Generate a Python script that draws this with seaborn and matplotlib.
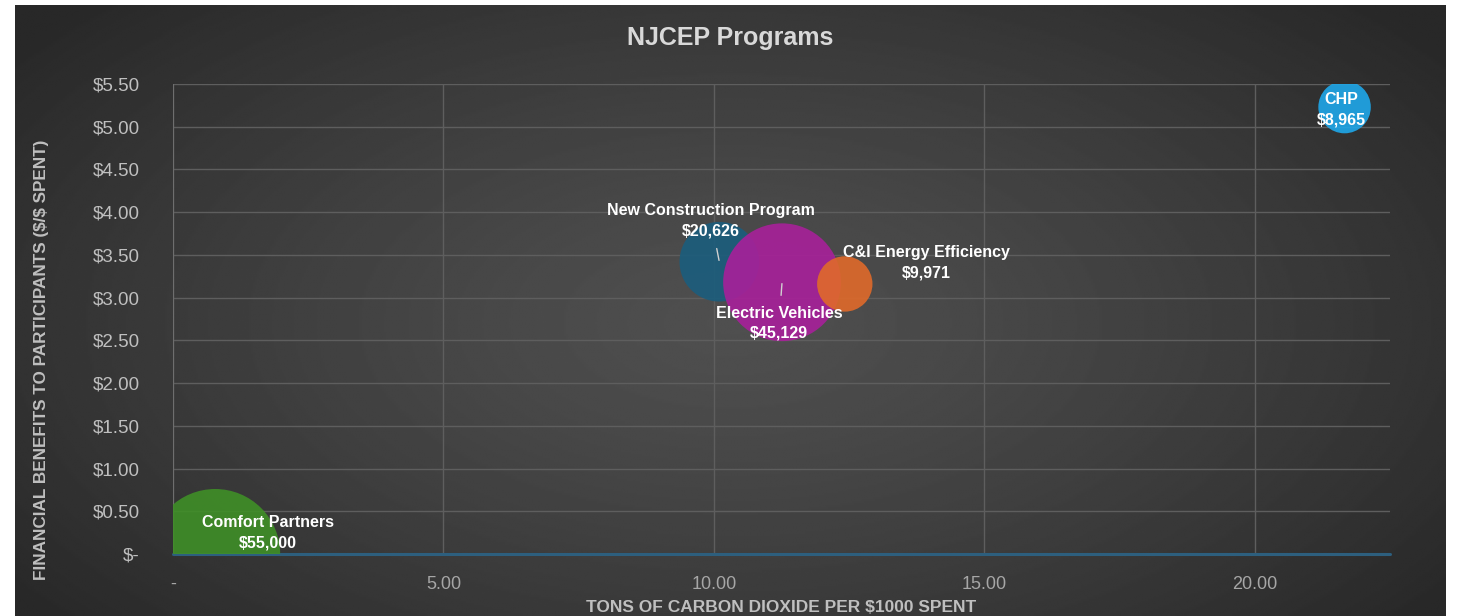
"""
NJCEP programs bubble chart
"""

import numpy as np
import pandas as pd
import seaborn as sns
import matplotlib
matplotlib.use("Agg")
import matplotlib.pyplot as plt
from matplotlib.ticker import FuncFormatter, MultipleLocator

# data
programs = ["Comfort Partners", "New Construction Program", "Electric Vehicles",
            "C&I Energy Efficiency", "CHP"]
co2_per_1000 = [0.78, 10.10, 11.26, 12.42, 21.66]
benefit_ratio = [0.00, 3.42, 3.18, 3.16, 5.23]
spend = [55000, 20626, 45129, 9971, 8965]
colors = ["#3f8f27", "#1b5d7d", "#a8209a", "#e06a2a", "#1fa8ea"]

df = pd.DataFrame({"program": programs, "co2": co2_per_1000,
                   "benefit": benefit_ratio, "spend": spend})

sns.set_style("dark")
plt.rcParams["font.family"] = ["Liberation Sans", "DejaVu Sans"]

fig = plt.figure(figsize=(14.58, 6.16), dpi=100, facecolor="white")
W, H = 1458, 616

# dark radial background panel
bg = fig.add_axes([15 / W, 0, (1446 - 15) / W, 611 / H])
yy, xx = np.mgrid[0:1:300j, 0:1:700j]
r = np.sqrt(((xx - 0.5) / 0.62) ** 2 + ((yy - 0.52) / 0.75) ** 2)
shade = 0.31 - 0.15 * np.clip(r, 0, 1) ** 1.3
bg.imshow(shade, cmap="gray", vmin=0, vmax=1, aspect="auto",
          extent=[0, 1, 0, 1], interpolation="bilinear")
bg.set_axis_off()

ax = fig.add_axes([173 / W, (616 - 554) / H, (1390 - 173) / W, (554 - 84) / H])
ax.set_facecolor("none")

# zero line (excel axis line)
ax.axhline(0, color="#2d5f7e", lw=2.2, zorder=1.5, clip_on=False)

# bubble area proportional to spend
sns.scatterplot(data=df, x="co2", y="benefit", hue="program", size="spend",
                palette=dict(zip(programs, colors)), sizes=(0, 8760),
                size_norm=(0, 55000), alpha=0.9, linewidth=0,
                legend=False, ax=ax, zorder=3)

ax.set_xlim(0, 22.5)
ax.set_ylim(0, 5.5)
ax.xaxis.set_major_locator(MultipleLocator(5))
ax.yaxis.set_major_locator(MultipleLocator(0.5))
ax.xaxis.set_major_formatter(FuncFormatter(lambda v, p: "-" if v == 0 else f"{v:.2f}"))
ax.yaxis.set_major_formatter(FuncFormatter(lambda v, p: "$-" if v == 0 else f"${v:.2f}"))
ax.tick_params(axis="y", colors="#bfbfbf", labelsize=13.5, length=0, pad=24)
ax.tick_params(axis="x", colors="#a6a6a6", labelsize=13, length=0, pad=16)
ax.grid(True, color="#5e5e5e", lw=1)
ax.set_axisbelow(True)
for s in ax.spines.values():
    s.set_visible(False)
ax.axvline(0, color="#727272", lw=1.2, zorder=1)

ax.set_xlabel("TONS OF CARBON DIOXIDE PER $1000 SPENT", color="#bfbfbf",
              fontsize=12.5, fontweight="bold", va="center")
ax.xaxis.set_label_coords(0.5, -(607 - 554) / (554 - 84))
ax.set_ylabel(r"FINANCIAL BENEFITS TO PARTICIPANTS (\$/\$ SPENT)", color="#bfbfbf",
              fontsize=12.3, fontweight="bold", va="center")
ax.yaxis.set_label_coords(-(173 - 42) / (1390 - 173), (554 - 360) / (554 - 84))

fig.text(0.501, 1 - 38 / H, "NJCEP Programs", ha="center", va="center",
         color="#d9d9d9", fontsize=18, fontweight="bold")

# bubble labels (offsets in points from bubble centre)
px = 72 / 100
offsets = [(53, 21), (-8, 41), (-3, -41), (82, 21), (-3, -3)]
leaders = [False, True, True, False, False]
for name, x, y, val, (dx, dy), lead in zip(programs, co2_per_1000, benefit_ratio,
                                           spend, offsets, leaders):
    kw = {}
    if lead:
        kw["arrowprops"] = dict(arrowstyle="-", color="#d0d0d0", lw=1,
                                shrinkA=5, shrinkB=1)
    ax.annotate(f"{name}\n${val:,}", xy=(x, y), xytext=(dx * px, dy * px),
                textcoords="offset points", ha="center", va="center",
                color="white", fontsize=11.5, fontweight="bold",
                linespacing=1.45, zorder=5, annotation_clip=False, **kw)

fig.savefig("out.png", dpi=100, facecolor="white")
